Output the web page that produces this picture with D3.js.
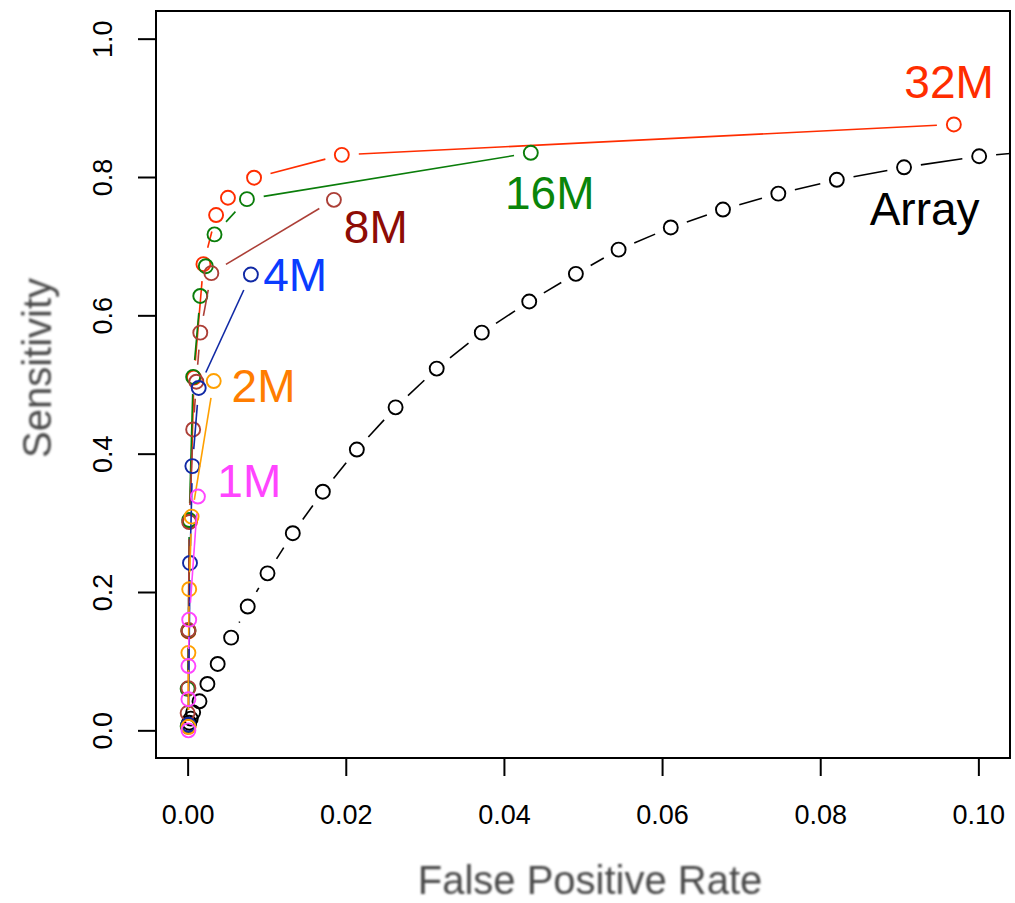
<!DOCTYPE html>
<html>
<head>
<meta charset="utf-8">
<script src="https://cdn.jsdelivr.net/npm/d3@7"></script>
<style>
    body { margin: 0; background: #fff; }
    svg { display: block; font-family: "Liberation Sans", Arial, Helvetica, sans-serif; }
</style>
</head>
<body>
<div id="chart"></div>
<script>
// ROC points (false positive rate, sensitivity)
const arrayFpr = [0.109, 0.1001, 0.0906, 0.0821, 0.0747, 0.0677, 0.0611, 0.0545, 0.0491, 0.0432, 0.0372, 0.0315, 0.0263,
    0.0214, 0.0171, 0.0133, 0.0101, 0.0076, 0.0055, 0.0038, 0.0025, 0.0015, 0.0007, 0.0004, 0.0002, 0.0001];
const arraySens = [0.839, 0.830, 0.814, 0.796, 0.776, 0.753, 0.727, 0.695, 0.660, 0.620, 0.575, 0.523, 0.467,
    0.406, 0.345, 0.285, 0.227, 0.179, 0.134, 0.096, 0.067, 0.042, 0.026, 0.017, 0.011, 0.008];

const fpr32M = [0.0969, 0.0195, 0.0084, 0.0051, 0.0036, 0.0020, 0.0008, 0.0003, 0.0001, 0.0001];
const sens32M = [0.876, 0.832, 0.799, 0.770, 0.745, 0.674, 0.510, 0.302, 0.143, 0.005];

const fpr16M = [0.0434, 0.0075, 0.0034, 0.0023, 0.0016, 0.0007, 0.0002, 0.0001, 0.0000, 0.0000];
const sens16M = [0.835, 0.768, 0.717, 0.671, 0.628, 0.511, 0.304, 0.144, 0.060, 0.006];

const fpr8M = [0.0185, 0.0030, 0.0016, 0.0011, 0.0007, 0.0002, 0.0001, 0.0001, 0.0000];
const sens8M = [0.767, 0.661, 0.575, 0.504, 0.435, 0.301, 0.145, 0.061, 0.025];

const fpr4M = [0.0080, 0.0014, 0.0006, 0.0003, 0.0001];
const sens4M = [0.659, 0.495, 0.382, 0.242, 0.008];

const fpr2M = [0.0033, 0.0005, 0.0002, 0.0001, 0.0001];
const sens2M = [0.505, 0.309, 0.204, 0.112, 0.005];

const fpr1M = [0.0013, 0.0002, 0.0001, 0.0001, 0.0001];
const sens1M = [0.338, 0.160, 0.093, 0.045, 0.000];

const seriesNames = ["Array", "32M", "16M", "8M", "4M", "2M", "1M"];
const labelFpr = [0.0932, 0.0963, 0.0458, 0.0238, 0.0136, 0.0096, 0.0078];
const labelSens = [0.754, 0.938, 0.777, 0.728, 0.659, 0.498, 0.361];

const xTicks = [0, 0.02, 0.04, 0.06, 0.08, 0.10];
const yTicks = [0, 0.2, 0.4, 0.6, 0.8, 1.0];

const width = 1015;
const height = 903;

const series = [
    { name: "Array", fpr: arrayFpr, sens: arraySens, color: "#000000", label: "#000000" },
    { name: "32M", fpr: fpr32M, sens: sens32M, color: "#ff2d00", label: "#ff2d00" },
    { name: "16M", fpr: fpr16M, sens: sens16M, color: "#0a7d0a", label: "#0a850a" },
    { name: "8M", fpr: fpr8M, sens: sens8M, color: "#ac3f37", label: "#8e0c05" },
    { name: "4M", fpr: fpr4M, sens: sens4M, color: "#1029a5", label: "#0a3cff" },
    { name: "2M", fpr: fpr2M, sens: sens2M, color: "#ffa000", label: "#ff7d00" },
    { name: "1M", fpr: fpr1M, sens: sens1M, color: "#ff45ff", label: "#ff45ff" }
];

const x = d3.scaleLinear().domain([-0.004, 0.104]).range([156, 1010]);
const y = d3.scaleLinear().domain([-0.04, 1.04]).range([758, 11]);

const svg = d3.select("#chart")
    .append("svg")
    .attr("width", width)
    .attr("height", height);

const defs = svg.append("defs");
defs.append("clipPath")
    .attr("id", "plotClip")
    .append("rect")
    .attr("x", 156).attr("y", 11)
    .attr("width", 854).attr("height", 747);
defs.append("filter")
    .attr("id", "soft")
    .append("feGaussianBlur")
    .attr("stdDeviation", 1.1);

const plot = svg.append("g").attr("clip-path", "url(#plotClip)");

// lines like R type="b": broken around each point
const gap = 17;
function gappedSegments(pts) {
    const segs = [];
    for (let i = 0; i < pts.length - 1; i++) {
        const [x1, y1] = pts[i];
        const [x2, y2] = pts[i + 1];
        const d = Math.hypot(x2 - x1, y2 - y1);
        if (d <= 2 * gap) continue;
        const ux = (x2 - x1) / d, uy = (y2 - y1) / d;
        segs.push([x1 + ux * gap, y1 + uy * gap, x2 - ux * gap, y2 - uy * gap]);
    }
    return segs;
}

series.forEach(function (s) {
    const pts = s.fpr.map(function (f, i) { return [x(f), y(s.sens[i])]; });
    const g = plot.append("g");

    g.selectAll("line")
        .data(gappedSegments(pts))
        .enter()
        .append("line")
        .attr("x1", d => d[0]).attr("y1", d => d[1])
        .attr("x2", d => d[2]).attr("y2", d => d[3])
        .attr("stroke", s.color)
        .attr("stroke-width", 1.6);

    g.selectAll("circle")
        .data(pts)
        .enter()
        .append("circle")
        .attr("cx", d => d[0])
        .attr("cy", d => d[1])
        .attr("r", 7)
        .attr("fill", "none")
        .attr("stroke", s.color)
        .attr("stroke-width", 1.9);
});

// series labels
svg.append("g")
    .selectAll("text")
    .data(seriesNames)
    .enter()
    .append("text")
    .attr("x", (d, i) => x(labelFpr[i]))
    .attr("y", (d, i) => y(labelSens[i]))
    .attr("dy", "0.35em")
    .attr("text-anchor", "middle")
    .style("font-size", "46px")
    .attr("fill", d => series.find(s => s.name === d).label)
    .text(d => d);

// box
svg.append("rect")
    .attr("x", 156).attr("y", 11)
    .attr("width", 854).attr("height", 747)
    .attr("fill", "none")
    .attr("stroke", "#000")
    .attr("stroke-width", 2);

// x axis
const xAxis = svg.append("g")
    .attr("transform", "translate(0,758)")
    .call(d3.axisBottom(x).tickValues(xTicks).tickSize(18).tickPadding(29).tickFormat(d3.format(".2f")));
xAxis.select(".domain").remove();
xAxis.selectAll(".tick line").attr("stroke", "#000").attr("stroke-width", 2);
xAxis.selectAll(".tick text")
    .attr("fill", "#000")
    .style("font-size", "27px")
    .style("font-family", "'Liberation Sans', Arial, sans-serif");

// y axis, labels turned like R's default
const yAxis = svg.append("g")
    .attr("transform", "translate(156,0)")
    .call(d3.axisLeft(y).tickValues(yTicks).tickSize(18).tickFormat(d3.format(".1f")));
yAxis.select(".domain").remove();
yAxis.selectAll(".tick line").attr("stroke", "#000").attr("stroke-width", 2);
yAxis.selectAll(".tick text")
    .attr("x", null)
    .attr("dy", null)
    .attr("text-anchor", "middle")
    .attr("transform", "translate(-44,0) rotate(-90)")
    .attr("fill", "#000")
    .style("font-size", "27px")
    .style("font-family", "'Liberation Sans', Arial, sans-serif");

// axis titles
svg.append("text")
    .attr("x", 590)
    .attr("y", 880)
    .attr("dy", "0.35em")
    .attr("text-anchor", "middle")
    .attr("fill", "#4a4a4a")
    .attr("filter", "url(#soft)")
    .style("font-size", "40px")
    .text("False Positive Rate");

svg.append("text")
    .attr("transform", "translate(37,368) rotate(-90)")
    .attr("dy", "0.35em")
    .attr("text-anchor", "middle")
    .attr("fill", "#4a4a4a")
    .attr("filter", "url(#soft)")
    .style("font-size", "40px")
    .text("Sensitivity");
</script>
</body>
</html>
